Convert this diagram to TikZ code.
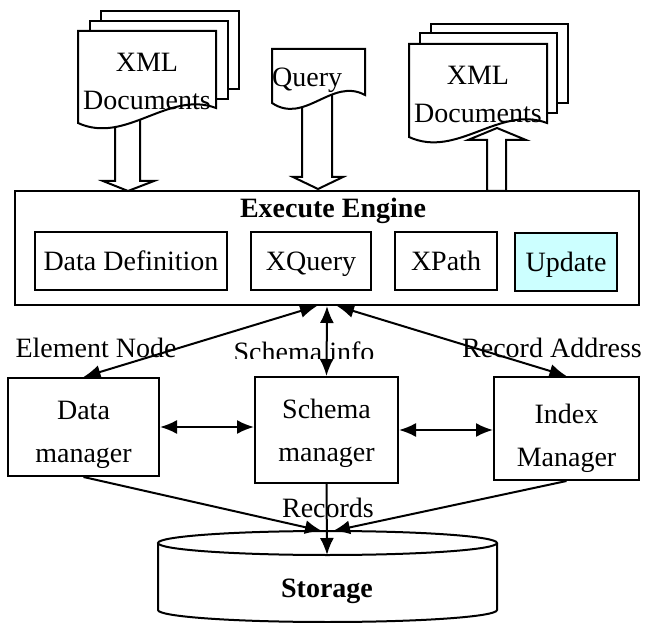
\documentclass[tikz,border=0pt]{standalone}
\usepackage{fontspec}
\setmainfont{Liberation Serif}
\usetikzlibrary{arrows.meta,positioning}
\definecolor{updcyan}{HTML}{CCFFFF}
\tikzset{
  box/.style={draw,line width=2pt,align=center,inner sep=0pt,text depth=0pt},
  sheet/.style={draw,line width=2pt,fill=white},
  hollow/.style={draw,line width=2pt,fill=white,line join=miter},
  lnk/.style={line width=2pt,{Latex[length=17pt,width=14pt]}-{Latex[length=17pt,width=14pt]}},
  flow/.style={line width=2pt,-{Latex[length=17pt,width=14pt]}},
}

\begin{document}
\begin{tikzpicture}[x=1pt,y=-1pt,font=\fontsize{28}{43}\selectfont]
  \useasboundingbox (0,0) rectangle (646,623);

  % block arrows to and from the engine
  \draw[hollow] (115,110) -- (115,181) -- (103,181) -- (128,191) -- (154,181) -- (140,181) -- (140,110) -- cycle;
  \draw[hollow] (302,95) -- (302,177) -- (293,177) -- (318,189) -- (343,177) -- (332,177) -- (332,95) -- cycle;

  % document stacks
  \draw[sheet] (101,11) rectangle (239,89);
  \draw[sheet] (90,21) rectangle (228,99);
  \draw[sheet] (78,31) -- (216,31) -- (216,108) .. controls (168,90) and (126,145) .. (78,123) -- cycle;
  \node[align=center] (xmlin) at (147,81) {XML\\[-5pt]Documents};

  \draw[sheet] (272,49) -- (365,49) -- (365,95) .. controls (332,77) and (305,125) .. (272,103) -- cycle;
  \node[anchor=base west,inner sep=0pt] (query) at (272,87) {Query};

  \draw[sheet] (431,24) rectangle (568,103);
  \draw[sheet] (420,33) rectangle (557,113);
  \draw[sheet] (409,44) -- (547,44) -- (547,123) .. controls (499,105) and (457,159) .. (409,137) -- cycle;
  \node[align=center] (xmlout) at (478,94) {XML\\[-5pt]Documents};

  \draw[hollow] (487,191) -- (487,140) -- (468,140) -- (497,128) -- (526,140) -- (506,140) -- (506,191) -- cycle;

  % execute engine
  \node[box,minimum width=624pt,minimum height=114pt] (engine) at (327,248) {};
  \node (enginetitle) at (333,211) {\textbf{Execute Engine}};
  \node[box,minimum width=192pt,minimum height=57pt] (ddef) at (131,261) {Data Definition};
  \node[box,minimum width=120pt,minimum height=57pt] (xquery) at (311,261) {XQuery};
  \node[box,minimum width=102pt,minimum height=57pt] (xpath) at (446,261) {XPath};
  \node[box,minimum width=102pt,minimum height=58pt,fill=updcyan] (update) at (566,262) {Update};

  % managers
  \node[box,minimum width=151pt,minimum height=98pt,
        label={[align=center,yshift=-8pt]center:Data\\manager}] (datamgr) at (83.5,427) {};
  \node[box,minimum width=143pt,minimum height=106pt] (schemamgr) at (326.5,430) {Schema\\manager};
  \node[box,minimum width=145pt,minimum height=103pt,
        label={[align=center,yshift=-10pt]center:Index\\Manager}] (indexmgr) at (566.5,428.5) {};

  % link labels
  \node (elemlbl) at (96,348) {Element Node};
  \begin{scope}
    \clip (220,330) rectangle (390,358);
    \node (schemalbl) at (304,352) {Schema info};
  \end{scope}
  \node (reclbl) at (552,348) {Record Address};
  \node (records) at (328,508) {Records};

  % storage
  \draw[line width=2pt] (158,543) -- (158,610) arc[start angle=180,end angle=360,x radius=169.5pt,y radius=12pt] -- (497,543);
  \draw[line width=2pt] (327.5,543) ellipse [x radius=169.5pt,y radius=12pt];
  \node[anchor=base] (storage) at (327,597) {\textbf{Storage}};
  \coordinate (stTop) at (327,531);
  \coordinate (stFront) at (327,555);

  % connectors
  \draw[lnk] ([xshift=-10pt]engine.south) -- (datamgr.north);
  \draw[lnk] (engine.south) -- (schemamgr.north);
  \draw[lnk] ([xshift=10pt]engine.south) -- (indexmgr.north);
  \draw[lnk] (datamgr.east) -- (datamgr.east -| schemamgr.west);
  \draw[lnk] (schemamgr.east) -- (schemamgr.east -| indexmgr.west);
  \draw[flow] (datamgr.south) -- ([xshift=-5pt]stTop);
  \draw[flow] (schemamgr.south) -- (stFront);
  \draw[flow] (indexmgr.south) -- ([xshift=6pt]stTop);
\end{tikzpicture}
\end{document}
